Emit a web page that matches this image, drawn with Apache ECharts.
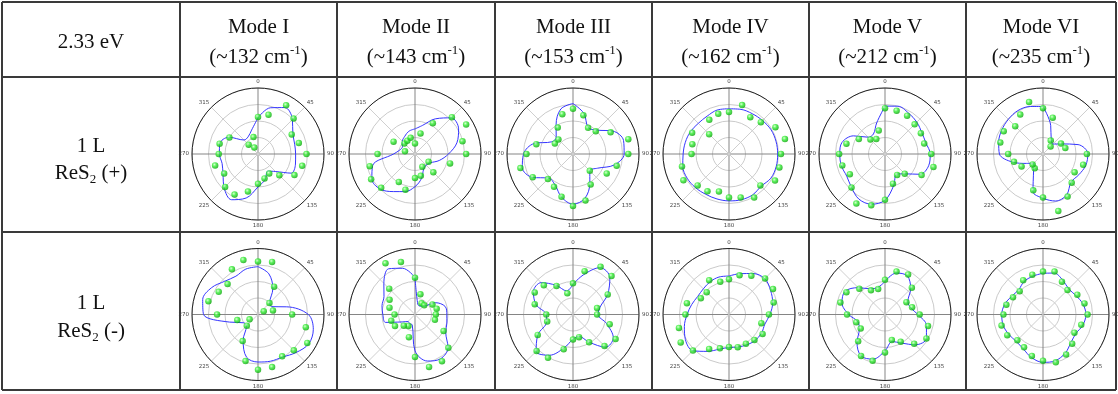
<!DOCTYPE html>
<html>
<head>
<meta charset="utf-8">
<script src="https://cdn.jsdelivr.net/npm/echarts@6/dist/echarts.min.js"></script>
<style>
  html, body { margin: 0; padding: 0; background: #fff; }
  #chart { width: 1118px; height: 394px; }
</style>
</head>
<body>
<div id="chart"></div>
<script>
// polarization angles (deg) of the measured points and of the fit samples
const angles = [0, 15, 30, 45, 60, 75, 90, 105, 120, 135, 150, 165,
                180, 195, 210, 225, 240, 255, 270, 285, 300, 315, 330, 345];
const angleTicks = ['0', '45', '90', '135', '180', '225', '270', '315'];

const modeNames = ['Mode I', 'Mode II', 'Mode III', 'Mode IV', 'Mode V', 'Mode VI'];
const modeShifts = ['~132', '~143', '~153', '~162', '~212', '~235'];

// 1L ReS2 (+) : measured intensity (points) and fit (blue line), radius units 0..4
const plusI_pts   = [2.25, 2.46, 3.41, 3.05, 2.36, 2.56, 2.94, 2.77, 2.55, 1.83, 1.36, 1.53, 1.81, 2.35, 2.84, 2.82, 2.37, 2.69, 2.38, 2.41, 2.0, 0.8, 0.45, 1.06];
const plusI_fit   = [2.2, 2.9, 3.25, 2.95, 2.44, 2.3, 2.28, 2.35, 2.32, 1.5, 1.2, 1.62, 2.0, 2.76, 3.2, 2.9, 2.45, 2.25, 2.34, 2.4, 2.04, 1.2, 1.2, 1.5];
const plusII_pts  = [0.63, 1.29, 2.16, 3.16, 3.58, 2.98, 3.1, 2.2, 0.95, 1.57, 0.89, 1.37, 1.46, 2.24, 1.96, 2.9, 3.07, 2.84, 2.27, 0.63, 1.5, 0.91, 0.93, 1.02];
const plusII_fit  = [1.52, 1.8, 2.46, 3.1, 3.05, 2.63, 2.03, 1.52, 1.07, 0.95, 1.05, 1.53, 1.98, 2.36, 2.63, 3.0, 3.02, 2.65, 1.3, 0.95, 0.88, 1.08, 1.24, 1.43];
const plusIII_pts = [2.74, 2.43, 1.83, 1.95, 2.63, 3.47, 3.35, 2.74, 2.36, 1.44, 2.14, 2.92, 3.15, 2.68, 2.3, 2.15, 2.82, 3.3, 2.82, 2.3, 1.27, 1.25, 1.85, 2.5];
const plusIII_fit = [3.06, 2.55, 1.85, 2.05, 2.78, 3.17, 3.1, 2.58, 1.72, 1.44, 2.04, 2.78, 3.04, 2.7, 2.17, 2.07, 2.83, 3.18, 3.0, 2.45, 1.48, 1.44, 2.05, 2.83];
const plusIV_pts  = [2.54, 3.07, 2.58, 2.73, 3.25, 3.51, 3.15, 3.16, 3.22, 2.69, 3.05, 2.73, 2.64, 2.35, 2.61, 2.69, 3.19, 2.95, 2.27, 2.3, 2.58, 1.7, 2.39, 2.52];
const plusIV_fit  = [2.74, 2.8, 2.82, 2.87, 2.94, 2.95, 2.95, 2.96, 2.93, 2.76, 2.86, 2.87, 2.84, 2.82, 2.82, 2.88, 2.93, 2.9, 2.78, 2.74, 2.7, 2.63, 2.65, 2.76];
const plusV_pts   = [2.78, 2.72, 2.68, 2.54, 2.51, 2.46, 2.8, 3.04, 2.56, 1.69, 1.47, 1.86, 2.78, 3.22, 3.47, 2.87, 2.46, 2.68, 2.78, 2.42, 1.83, 1.25, 1.05, 1.47];
const plusV_fit   = [2.9, 3.0, 2.86, 2.73, 2.58, 2.57, 2.74, 2.74, 2.46, 1.7, 1.41, 2.0, 2.8, 3.15, 3.16, 2.87, 2.68, 2.74, 2.74, 2.7, 2.2, 1.44, 1.4, 1.95];
const plusVI_pts  = [2.78, 2.28, 0.94, 0.65, 1.26, 1.4, 2.66, 2.52, 2.21, 2.46, 2.98, 3.58, 2.64, 2.28, 1.0, 0.89, 1.5, 1.82, 2.11, 2.68, 2.75, 2.38, 2.76, 3.26];
const plusVI_fit  = [2.88, 1.8, 1.0, 0.85, 1.22, 2.2, 2.72, 2.68, 2.51, 2.41, 2.86, 2.95, 2.68, 2.35, 1.14, 0.79, 1.14, 1.9, 2.64, 2.78, 2.89, 2.97, 3.04, 2.98];

// 1L ReS2 (-)
const minusI_pts   = [3.21, 3.3, 1.95, 0.98, 0.4, 0.94, 2.07, 3.0, 3.45, 3.07, 2.93, 3.3, 3.35, 2.92, 1.86, 0.96, 0.59, 1.3, 2.48, 3.11, 2.75, 2.61, 3.16, 3.42];
const minusI_fit   = [2.9, 2.55, 1.8, 1.0, 0.95, 1.8, 3.05, 3.47, 3.55, 3.26, 2.98, 2.93, 2.88, 2.68, 1.8, 0.99, 1.0, 1.78, 3.3, 3.47, 3.25, 2.85, 2.68, 2.85];
const minusII_pts  = [2.23, 1.27, 0.79, 0.79, 1.22, 1.36, 1.26, 1.25, 2.0, 2.86, 3.27, 3.29, 2.58, 1.42, 0.8, 0.96, 1.4, 1.49, 1.24, 1.6, 1.78, 2.21, 3.58, 3.29];
const minusII_fit  = [2.25, 0.65, 0.59, 0.72, 1.43, 1.89, 1.93, 2.0, 2.15, 2.83, 3.1, 2.92, 2.2, 0.65, 0.64, 0.6, 0.9, 1.85, 1.95, 2.07, 2.17, 2.67, 3.2, 2.9];
const minusIII_pts = [1.89, 2.72, 3.34, 3.3, 2.43, 1.51, 1.46, 2.3, 2.98, 2.7, 1.95, 1.42, 1.52, 2.18, 3.03, 3.12, 2.47, 1.62, 1.62, 2.4, 2.68, 2.5, 2.0, 1.33];
const minusIII_fit = [1.83, 2.5, 3.28, 3.16, 2.42, 1.69, 1.52, 2.1, 2.82, 2.8, 1.93, 1.37, 1.5, 2.1, 2.85, 3.16, 2.46, 1.65, 1.62, 2.32, 2.77, 2.73, 2.04, 1.48];
const minusIV_pts  = [2.13, 2.47, 2.71, 3.09, 3.08, 2.8, 2.42, 2.03, 2.35, 2.18, 2.05, 2.05, 1.97, 2.12, 2.41, 3.09, 3.38, 3.14, 2.64, 2.64, 1.97, 1.91, 2.4, 2.05];
const minusIV_fit  = [2.33, 2.56, 2.87, 3.07, 2.91, 2.74, 2.48, 2.25, 2.27, 2.23, 2.13, 2.04, 2.0, 2.17, 2.58, 3.1, 3.05, 2.8, 2.54, 2.34, 2.19, 2.2, 2.29, 2.35];
const minusV_pts   = [2.1, 2.7, 2.8, 2.3, 1.5, 1.7, 2.1, 2.7, 2.9, 2.5, 1.9, 1.6, 2.3, 2.9, 2.9, 2.3, 1.7, 1.8, 2.3, 2.8, 2.7, 2.2, 1.7, 1.6];
const minusV_fit   = [2.0, 2.6, 2.7, 2.2, 1.6, 1.6, 2.0, 2.6, 2.9, 2.6, 2.0, 1.7, 2.2, 2.8, 2.9, 2.4, 1.8, 1.7, 2.2, 2.7, 2.8, 2.3, 1.8, 1.7];
const minusVI_pts  = [2.6, 2.7, 2.3, 2.1, 2.4, 2.6, 2.7, 2.4, 2.2, 2.5, 2.8, 3.0, 2.8, 2.6, 2.3, 2.2, 2.5, 2.6, 2.4, 2.3, 2.1, 2.0, 2.4, 2.5];
const minusVI_fit  = [2.5, 2.6, 2.4, 2.2, 2.3, 2.5, 2.6, 2.5, 2.3, 2.4, 2.7, 2.9, 2.9, 2.7, 2.4, 2.3, 2.4, 2.5, 2.5, 2.4, 2.2, 2.1, 2.3, 2.4];

const plusRow  = [[plusI_pts, plusI_fit], [plusII_pts, plusII_fit], [plusIII_pts, plusIII_fit],
                  [plusIV_pts, plusIV_fit], [plusV_pts, plusV_fit], [plusVI_pts, plusVI_fit]];
const minusRow = [[minusI_pts, minusI_fit], [minusII_pts, minusII_fit], [minusIII_pts, minusIII_fit],
                  [minusIV_pts, minusIV_fit], [minusV_pts, minusV_fit], [minusVI_pts, minusVI_fit]];

// table geometry
const colX = [2, 180, 337, 495, 652, 809, 966, 1116];
const rowY = [2, 77, 232, 390];
const plotCx = [258, 415, 573, 729, 885, 1043];
const plotCy = [154, 314.5];
const plotR = 66;

const chart = echarts.init(document.getElementById('chart'), null, { renderer: 'canvas' });

const polar = [], angleAxis = [], radiusAxis = [], series = [];
const ball = {
  type: 'radial', x: 0.38, y: 0.35, r: 0.65,
  colorStops: [
    { offset: 0, color: '#d0ffc8' },
    { offset: 0.45, color: '#33ee33' },
    { offset: 1, color: '#0ca80c' }
  ]
};

[plusRow, minusRow].forEach((row, ri) => {
  row.forEach(([pts, fit], ci) => {
    const idx = polar.length;
    polar.push({ center: [plotCx[ci], plotCy[ri]], radius: plotR });
    angleAxis.push({
      polarIndex: idx, type: 'value', min: 0, max: 360, interval: 45,
      startAngle: 90, clockwise: true,
      axisLine: { lineStyle: { color: '#222', width: 1 } },
      axisTick: { show: false },
      axisLabel: {
        fontSize: 5.5, color: '#444', margin: 3, fontFamily: 'DejaVu Sans',
        formatter: v => (v >= 360 ? '' : angleTicks[v / 45])
      },
      splitLine: { show: true, lineStyle: { color: ['#858585', '#cfcfcf'], width: 1 } }
    });
    radiusAxis.push({
      polarIndex: idx, type: 'value', min: 0, max: 4, interval: 1,
      axisLine: { show: false }, axisTick: { show: false }, axisLabel: { show: false },
      splitLine: { show: true, lineStyle: { color: '#bdbdbd', width: 0.8 } }
    });
    const line = fit.map((r, k) => [r, angles[k]]);
    line.push([fit[0], 360]);
    series.push({
      type: 'line', coordinateSystem: 'polar', polarIndex: idx,
      data: line, smooth: 0.35, symbol: 'none', silent: true, z: 2,
      lineStyle: { color: '#3535ff', width: 1 }
    });
    series.push({
      type: 'scatter', coordinateSystem: 'polar', polarIndex: idx,
      data: pts.map((r, k) => [r, angles[k]]), symbolSize: 6.5, z: 3,
      itemStyle: { color: ball }
    });
  });
});

// table grid and text
const graphic = [];
const stroke = { stroke: '#3a3a3a', lineWidth: 2 };
colX.forEach(x => graphic.push({ type: 'line', shape: { x1: x, y1: rowY[0], x2: x, y2: rowY[3] }, style: stroke, z: 10 }));
rowY.forEach(y => graphic.push({ type: 'line', shape: { x1: colX[0], y1: y, x2: colX[7], y2: y }, style: stroke, z: 10 }));

const serif = 'Liberation Serif';
const txt = (text, x, y, rich) => graphic.push({
  type: 'text', z: 10,
  style: {
    text, x, y, align: 'center', verticalAlign: 'middle',
    fontFamily: serif, fontSize: 21, lineHeight: 26, fill: '#111',
    rich: rich || {}
  }
});
const supSub = {
  sup: { fontFamily: serif, fontSize: 13, verticalAlign: 'top', lineHeight: 26, fill: '#111' },
  sub: { fontFamily: serif, fontSize: 13, verticalAlign: 'bottom', lineHeight: 26, fill: '#111' }
};
const firstMid = (colX[0] + colX[1]) / 2;
txt('2.33 eV', firstMid, 42);
modeNames.forEach((m, i) => {
  const cx = (colX[i + 1] + colX[i + 2]) / 2;
  txt(m, cx, 27);
  txt('(' + modeShifts[i] + ' cm{sup|-1})', cx, 57, supSub);
});
txt('1 L', firstMid, 146);
txt('ReS{sub|2} (+)', firstMid, 173, supSub);
txt('1 L', firstMid, 303);
txt('ReS{sub|2} (-)', firstMid, 331, supSub);

chart.setOption({
  animation: false,
  backgroundColor: '#fff',
  polar, angleAxis, radiusAxis, series, graphic
});
</script>
</body>
</html>
